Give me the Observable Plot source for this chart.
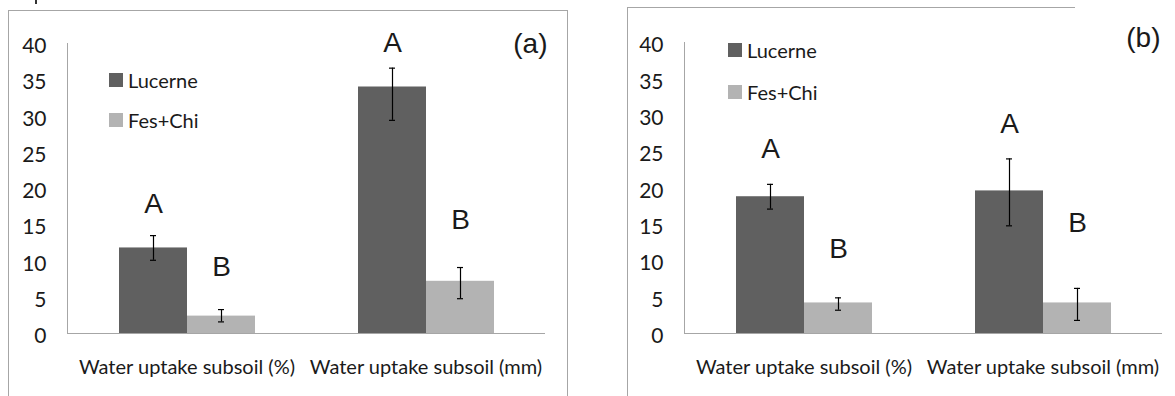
<!DOCTYPE html>
<html><head><meta charset="utf-8">
<script src="https://cdn.jsdelivr.net/npm/d3@7"></script>
<script src="https://cdn.jsdelivr.net/npm/@observablehq/plot@0.6"></script>
<style>
body{margin:0;background:#fff;width:1175px;height:396px;overflow:hidden;position:relative;font-family:Lato,sans-serif}
.panel{position:absolute;top:0;height:396px}
.panel svg{overflow:visible}
.panel svg text{fill:#1a1a1a}
.panel svg [aria-label^="y-axis"] text{translate:0 3px}
.panel svg [aria-label^="fx-axis"] text{font-size:20px}
.frame{position:absolute;box-sizing:border-box;border:1px solid #a6a6a6;border-bottom:none}
.lg{position:absolute;display:flex;align-items:center;height:24px;font:20px Lato,sans-serif;color:#1a1a1a;white-space:nowrap}
.lg .sw{width:14px;height:14px;margin-right:5px}
</style></head><body>
<div id="root"></div>
<script>
// ---- data ----
const groups = ["Water uptake subsoil (%)", "Water uptake subsoil (mm)"];
const series = ["Lucerne", "Fes+Chi"];
const colors = ["#606060", "#b3b3b3"];
const yTicks = [0, 5, 10, 15, 20, 25, 30, 35, 40];

// order: (%) Lucerne, (%) Fes+Chi, (mm) Lucerne, (mm) Fes+Chi
const aMeans   = [11.8, 2.4, 34.0, 7.2];
const aLow     = [10.1, 1.6, 29.4, 4.8];
const aHigh    = [13.5, 3.3, 36.6, 9.1];
const aLetters = ["A", "B", "A", "B"];
const aLetterY = [17.8, 9.1, 40.1, 15.6];

const bMeans   = [18.8, 4.2, 19.6, 4.2];
const bLow     = [17.1, 3.2, 14.8, 1.8];
const bHigh    = [20.5, 4.9, 24.0, 6.2];
const bLetters = ["A", "B", "A", "B"];
const bLetterY = [25.3, 11.6, 28.8, 15.2];

const tags = ["(a)", "(b)"];

function rowsOf(means, lows, highs, letters, ly) {
  return means.map((v, i) => ({
    group: groups[Math.floor(i / 2)], series: series[i % 2],
    value: v, low: lows[i], high: highs[i], letter: letters[i], ly: ly[i]
  }));
}

function makePanel(rows, tag, o) {
  return Plot.plot({
    width: o.width, height: 396,
    marginLeft: o.ml, marginRight: o.mr, marginTop: o.mt, marginBottom: 63,
    style: {color: "#a6a6a6", fontFamily: "Lato, sans-serif", fontSize: "21px", background: "transparent"},
    fx: {domain: groups, padding: 0, tickSize: 0, tickPadding: 26, label: null, axis: "bottom"},
    x: {domain: series, paddingInner: 0, paddingOuter: 0.75, axis: null},
    y: {domain: [0, 40], ticks: yTicks, tickSize: 0, tickPadding: 21, label: null, line: true},
    color: {domain: series, range: colors},
    marks: [
      Plot.barY(rows, {fx: "group", x: "series", y: "value", fill: "series"}),
      Plot.ruleY([0], {stroke: "#a6a6a6"}),
      Plot.ruleX(rows, {fx: "group", x: "series", y1: "low", y2: "high", stroke: "#000", strokeWidth: 1.2}),
      Plot.tickY(rows, {fx: "group", x: "series", y: "low", stroke: "#000", strokeWidth: 1.2, insetLeft: 31, insetRight: 31}),
      Plot.tickY(rows, {fx: "group", x: "series", y: "high", stroke: "#000", strokeWidth: 1.2, insetLeft: 31, insetRight: 31}),
      Plot.text(rows, {fx: "group", x: "series", y: "ly", text: "letter", fill: "#000",
        fontFamily: "Liberation Sans, Arial, sans-serif", fontSize: 28, lineAnchor: "middle"}),
      Plot.text([tag], {fx: [groups[1]], text: d => d, frameAnchor: "top-right", textAnchor: "end",
        lineAnchor: "middle", dx: o.tdx, dy: o.tdy, fill: "#000",
        fontFamily: "Liberation Sans, Arial, sans-serif", fontSize: 28})
    ]
  });
}

const root = document.getElementById("root");

function addDiv(cls, css, html) {
  const d = document.createElement("div");
  d.className = cls; d.style.cssText = css; if (html) d.innerHTML = html;
  root.appendChild(d); return d;
}

// chart-area frames
addDiv("frame", "left:8px;top:10px;width:560px;height:400px;");
addDiv("frame", "left:627px;top:7px;width:448px;height:400px;border-right:none;");
addDiv("", "position:absolute;left:35px;top:0;width:2px;height:4px;background:#333;");

// panels
const pa = addDiv("panel", "left:0;width:590px;");
pa.appendChild(makePanel(rowsOf(aMeans, aLow, aHigh, aLetters, aLetterY), tags[0],
  {width: 590, ml: 66, mr: 45, mt: 43, tdx: 2, tdy: 1}));
const pb = addDiv("panel", "left:590px;width:585px;");
pb.appendChild(makePanel(rowsOf(bMeans, bLow, bHigh, bLetters, bLetterY), tags[1],
  {width: 585, ml: 94, mr: 13, mt: 42, tdx: -2, tdy: -4}));

// legends (inside plot areas)
function legend(x, ys) {
  series.forEach((s, i) => {
    addDiv("lg", `left:${x}px;top:${ys[i] - 12}px;`,
      `<span class="sw" style="background:${colors[i]}"></span><span>${s}</span>`);
  });
}
legend(109, [80, 120]);
legend(728, [50, 92]);
</script>
</body></html>
